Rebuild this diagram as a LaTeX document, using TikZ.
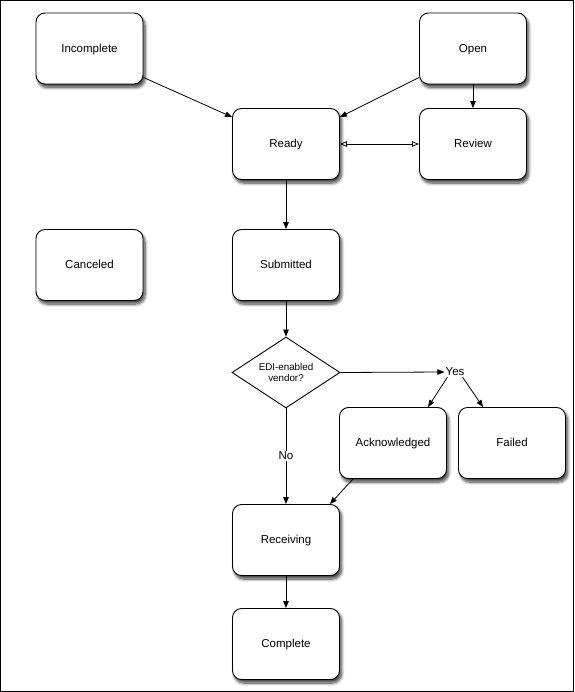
\documentclass[tikz,border=0pt]{standalone}
\usepackage{fontspec}
\setmainfont{Liberation Sans}
\usetikzlibrary{shapes.geometric, shadows.blur, arrows.meta}

\tikzset{
    statebox/.style={draw, line width=0.9pt, rounded corners=9pt, fill=white,
        minimum width=107pt, minimum height=71pt, inner sep=2pt,
        text height=8.5pt, text depth=1pt,
        font=\fontsize{11.5}{13.5}\selectfont,
        blur shadow={shadow xshift=2pt, shadow yshift=-3.5pt, shadow blur radius=3pt,
            shadow blur steps=8, shadow opacity=75}},
    decision/.style={draw, line width=0.9pt, diamond, fill=white, aspect=1.52,
        minimum width=108pt, minimum height=71pt, inner sep=0pt, align=center,
        font=\fontsize{9.8}{11.8}\selectfont},
    label/.style={inner sep=1pt, font=\fontsize{11.5}{13.5}\selectfont},
    flow/.style={line width=0.8pt, -{Triangle[length=7pt, width=5.5pt]}},
    twoway/.style={line width=0.8pt, {Triangle[open, length=7pt, width=5.5pt]}-{Triangle[open, length=7pt, width=5.5pt]}}
}

\begin{document}
\begin{tikzpicture}[x=1pt, y=-1pt]
    \useasboundingbox (0,0) rectangle (574,692);
    \draw[line width=1pt] (0.5,0.5) rectangle (573.5,691.5);

    % States
    \node[statebox] (incomplete) at (89.5,48.5) {Incomplete};
    \node[statebox] (open) at (473,48.5) {Open};
    \node[statebox] (ready) at (286,144) {Ready};
    \node[statebox] (review) at (473,144) {Review};
    \node[statebox] (canceled) at (89.5,265) {Canceled};
    \node[statebox] (submitted) at (286,265) {Submitted};
    \node[statebox] (acknowledged) at (393,443) {Acknowledged};
    \node[statebox] (failed) at (512,443) {Failed};
    \node[statebox] (receiving) at (286,540) {Receiving};
    \node[statebox] (complete) at (286,644) {Complete};

    % Decision
    \node[decision] (edi) at (286,372.5) {EDI-enabled\\vendor?};
    \node[label] (yes) at (455,372) {Yes};
    \node[label] (no) at (286,456) {No};

    % Connectors
    \draw[flow] ([yshift=7pt]incomplete.south east) -- ([yshift=-9pt]ready.north west);
    \draw[flow] ([yshift=7pt]open.south west) -- ([yshift=-9pt]ready.north east);
    \draw[flow] (open) -- (review);
    \draw[twoway] (ready) -- (review);
    \draw[flow] (ready) -- (submitted);
    \draw[flow] (submitted) -- (edi);
    \draw[flow] (edi.east) -- (yes.west);
    \draw[flow] ([xshift=3pt]yes.south west) -- ([xshift=35pt]acknowledged.north);
    \draw[flow] ([xshift=-3pt]yes.south east) -- ([xshift=-29pt]failed.north);
    \draw[line width=0.8pt] (edi.south) -- (no.north);
    \draw[flow] (no.south) -- (receiving.north);
    \draw[flow] ([xshift=14pt]acknowledged.south west) -- ([xshift=-10pt]receiving.north east);
    \draw[flow] (receiving) -- (complete);
\end{tikzpicture}
\end{document}
